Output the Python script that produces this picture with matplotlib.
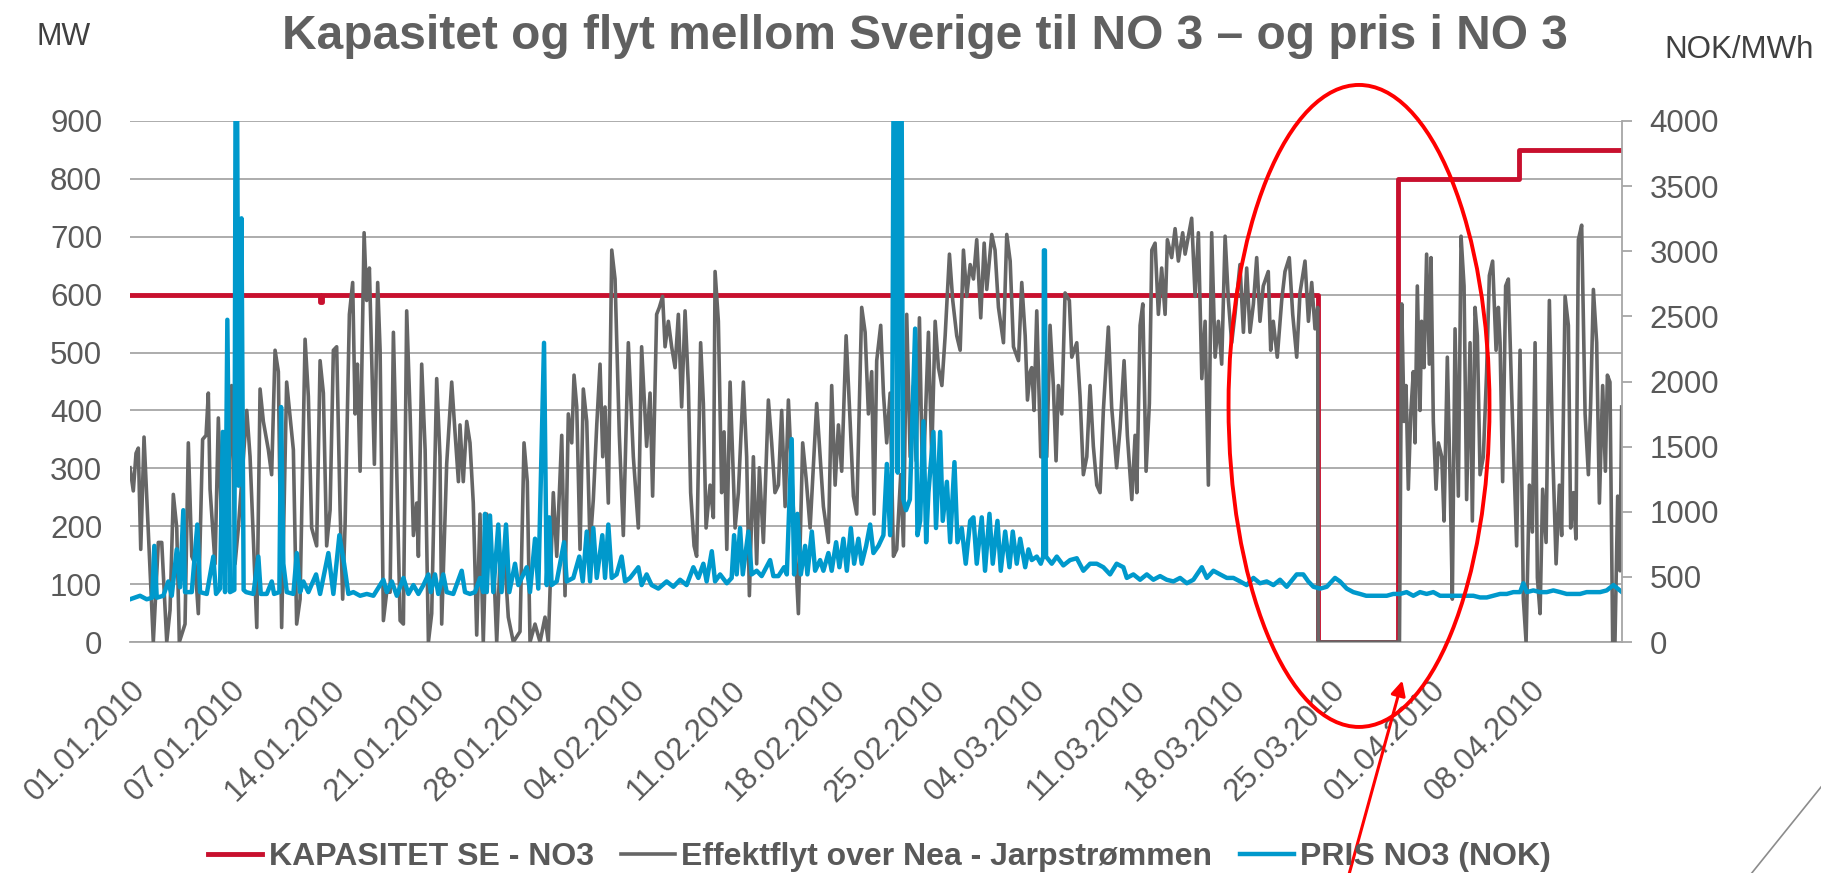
import matplotlib
matplotlib.use("Agg")
import matplotlib.pyplot as plt
from matplotlib.patches import Ellipse, FancyArrowPatch
from matplotlib.lines import Line2D

plt.rcParams['font.family'] = ['Liberation Sans', 'DejaVu Sans']

# x position is in days from the first label (labels are evenly spaced, 7 apart)
tick_days = [0, 7, 14, 21, 28, 35, 42, 49, 56, 63, 70, 77, 84, 91, 98]
tick_labels = ['01.01.2010', '07.01.2010', '14.01.2010', '21.01.2010', '28.01.2010',
               '04.02.2010', '11.02.2010', '18.02.2010', '25.02.2010', '04.03.2010',
               '11.03.2010', '18.03.2010', '25.03.2010', '01.04.2010', '08.04.2010']

# capacity SE -> NO3 (MW), step changes
cap_days = [0, 13.3, 13.45, 83.12, 88.76, 97.2, 104.4]
cap_mw = [600, 588, 600, 0, 800, 850, 850]

# flow over Nea - Jarpstrømmen (MW)
flow_days = [
    0.0, 0.23, 0.42, 0.58, 0.75, 0.98, 1.21, 1.63, 1.98, 2.22, 2.57, 2.8, 3.03, 3.27, 3.45, 3.85,
    4.08, 4.32, 4.55, 4.78, 5.08, 5.32, 5.48, 5.6, 5.95, 6.18, 6.41, 6.72, 7.11, 7.35, 7.58, 8.17,
    8.4, 8.63, 8.87, 9.1, 9.33, 9.68, 9.91, 10.15, 10.38, 10.61, 10.96, 11.43, 11.66, 11.9, 12.25,
    12.48, 12.71, 13.06, 13.3, 13.53, 13.76, 14.0, 14.23, 14.46, 14.7, 14.88, 15.05, 15.35, 15.58,
    15.75, 15.91, 16.1, 16.38, 16.56, 16.75, 16.91, 17.1, 17.33, 17.5, 17.73, 17.96, 18.2, 18.43,
    18.66, 18.9, 19.13, 19.36, 19.6, 19.83, 20.06, 20.18, 20.41, 20.65, 20.88,
    21.11, 21.46, 21.69, 21.81, 22.16, 22.51, 22.74, 22.98, 23.09, 23.32, 23.56, 23.79, 24.02,
    24.26, 24.49, 24.72, 24.96, 25.19, 25.42, 25.66, 25.89, 26.24, 26.47, 26.82, 27.29, 27.57,
    27.8, 27.99, 28.34, 28.69, 29.04, 29.27, 29.62, 29.86, 30.21, 30.44, 30.67, 30.91, 31.07,
    31.26, 31.49, 31.72, 31.96, 32.19, 32.42, 32.66, 32.89, 33.08, 33.24, 33.47, 33.71, 33.94,
    34.24, 34.52, 34.87, 35.22, 35.57, 35.8, 36.15, 36.39, 36.57, 36.85, 37.04, 37.27, 37.44,
    37.67, 37.9, 38.14, 38.37, 38.6, 38.84, 39.07, 39.23, 39.47, 39.65, 39.93, 40.12, 40.31,
    40.59, 40.82, 40.94, 41.17, 41.4, 41.57, 41.76, 41.99,
    42.34, 42.57, 42.92, 43.15, 43.34, 43.62, 43.85, 44.04, 44.32, 44.67, 44.9, 45.13, 45.37,
    45.6, 45.84, 46.07, 46.42, 46.77, 47.07, 47.31, 47.59, 48.05, 48.29, 48.52, 48.87, 49.1,
    49.34, 49.57, 49.8, 50.11, 50.39, 50.62, 50.85, 51.2, 51.44, 51.67, 51.9, 52.07, 52.25,
    52.53, 52.72, 52.95, 53.19, 53.42, 53.65, 53.93, 54.12, 54.35, 54.59, 54.82, 55.01, 55.24,
    55.47, 55.87, 56.1, 56.34, 56.57, 56.81, 57.04, 57.34, 57.57, 57.85, 58.09, 58.32, 58.55,
    58.79, 59.02, 59.25, 59.53, 59.77, 59.95, 60.3, 60.53, 60.77, 61.12, 61.35, 61.59, 61.82,
    62.17, 62.4, 62.64, 62.8, 62.99,
    63.1, 63.26, 63.45, 63.73, 64.15, 64.38, 64.61, 64.8, 64.96, 65.2, 65.43, 65.73, 65.9,
    66.25, 66.48, 66.71, 66.95, 67.18, 67.41, 67.65, 67.88, 68.11, 68.46, 68.69, 69.04, 69.28,
    69.56, 69.79, 70.1, 70.33, 70.45, 70.68, 70.87, 71.1, 71.33, 71.5, 71.73, 71.96, 72.19,
    72.43, 72.59, 72.89, 73.13, 73.36, 73.66, 73.83, 74.06, 74.29, 74.53, 74.76, 75.0, 75.23,
    75.46, 75.69, 75.93, 76.16, 76.39, 76.63, 76.86, 77.09, 77.32, 77.67, 77.91, 78.14, 78.37,
    78.61, 78.84, 79.07, 79.3, 79.65, 79.82, 80.0, 80.28, 80.59, 80.82, 81.12, 81.36, 81.64,
    81.87, 82.22, 82.46, 82.69, 82.92, 83.11, 83.14, 88.83,
    88.99, 89.15, 89.29, 89.45, 89.62, 89.8, 89.92, 90.08, 90.27, 90.38, 90.55, 90.73, 90.92,
    91.04, 91.2, 91.39, 91.55, 91.79, 91.95, 92.18, 92.37, 92.53, 92.72, 92.95, 93.14, 93.35,
    93.53, 93.77, 93.93, 94.12, 94.28, 94.47, 94.7, 94.93, 95.12, 95.35, 95.59, 95.75, 95.87,
    96.05, 96.26, 96.45, 96.68, 97.03, 97.27, 97.5, 97.69, 97.92, 98.13, 98.32, 98.48, 98.67,
    98.85, 99.09, 99.32, 99.55, 99.79, 100.02, 100.18, 100.42, 100.65, 100.81, 101.0, 101.18,
    101.35, 101.58, 101.82, 102.05, 102.21, 102.4, 102.63, 102.82, 103.05, 103.24, 103.38,
    103.56, 103.75, 103.91, 104.1, 104.26, 104.38,
]
flow_mw = [
    301, 261, 326, 335, 160, 354, 228, 0, 172, 172, 0, 55, 255, 197, 0, 31,
    344, 148, 135, 49, 350, 357, 430, 264, 135, 387, 197, 148, 443, 135, 197, 400,
    320, 178, 25, 437, 381, 332, 289, 504, 467, 25, 449, 332, 31, 74, 523,
    424, 197, 166, 486, 430, 166, 228, 504, 510, 228, 74, 203, 566, 621,
    394, 480, 295, 707, 590, 646, 492, 307, 621, 504, 37, 86, 86, 535,
    301, 37, 31, 572, 394, 184, 240, 148, 480, 332, 0,
    49, 455, 320, 31, 308, 449, 363, 277, 375, 277, 381, 344, 240,
    12, 221, 0, 221, 135, 148, 0, 141, 135, 43, 0, 18, 344,
    277, 0, 31, 0, 43, 0, 258, 148, 357, 80, 394, 344, 461,
    406, 160, 437, 381, 166, 246, 375, 480, 320, 406, 240, 677, 627,
    357, 184, 517, 320, 197, 510, 338, 430, 252, 566, 578, 597, 510,
    554, 510, 474, 566, 406, 572, 443, 258, 166, 148, 517, 412, 197,
    271, 215, 640, 554, 258, 363, 160, 449,
    197, 258, 449, 320, 80, 320, 135, 301, 172, 418, 344, 258, 271,
    400, 234, 418, 228, 49, 344, 283, 197, 412, 320, 234, 172, 443,
    271, 375, 295, 529, 381, 252, 221, 578, 535, 394, 467, 221, 486,
    547, 430, 344, 430, 148, 160, 289, 166, 566, 320, 443, 313, 560,
    258, 535, 320, 554, 474, 443, 529, 670, 590, 529, 504, 677, 597,
    652, 627, 695, 560, 689, 609, 704, 677, 578, 517, 704, 658, 510,
    486, 621, 529, 418, 467,
    474, 400, 572, 320, 320, 547, 443, 313, 443, 394, 603, 590, 492,
    517, 424, 289, 320, 443, 338, 271, 258, 400, 544, 406, 301, 369,
    486, 357, 246, 357, 258, 547, 584, 295, 412, 677, 689, 566, 646,
    566, 695, 664, 714, 658, 707, 670, 701, 732, 597, 707, 455, 554,
    271, 707, 492, 554, 480, 701, 590, 517, 566, 652, 535, 646, 535,
    584, 664, 554, 615, 640, 504, 554, 492, 590, 640, 664, 566, 492,
    603, 658, 554, 621, 541, 578, 0, 0,
    584, 381, 443, 264, 394, 467, 344, 615, 400, 554, 474, 670, 480,
    664, 381, 264, 344, 320, 209, 492, 283, 74, 541, 252, 701, 615,
    246, 517, 209, 578, 529, 289, 320, 467, 633, 658, 504, 578, 517,
    277, 615, 627, 430, 166, 504, 74, 0, 271, 190, 517, 111, 49,
    264, 172, 590, 332, 135, 271, 184, 597, 547, 197, 258, 178,
    695, 720, 394, 289, 412, 609, 517, 240, 443, 295, 461,
    449, 0, 0, 252, 123, 406,
]

# price NO3 (NOK/MWh), right axis
price_days = [
    0.0, 0.7, 1.17, 1.55, 1.7, 1.87, 2.33, 2.68, 2.92, 3.27, 3.5, 3.73, 3.85, 4.32, 4.71, 4.9,
    5.37, 5.83, 6.02, 6.3, 6.49, 6.65, 6.81, 7.0, 7.3, 7.38, 7.5, 7.6, 7.8, 7.95, 8.12, 8.63,
    8.98, 9.15, 9.57, 9.92, 10.08, 10.45, 10.57, 10.73, 10.97, 11.43, 11.67, 11.9, 12.13, 12.48,
    13.02, 13.3, 13.88, 14.23, 14.65, 14.98, 15.28, 15.63, 16.1, 16.57, 17.03, 17.73, 17.97,
    18.32, 18.67, 19.13, 19.48, 19.83, 20.18, 20.53, 20.88,
    21.05, 21.34, 21.57, 21.92, 22.16, 22.62, 23.21, 23.44, 23.79, 24.14, 24.49, 24.72, 24.84,
    24.96, 25.19, 25.42, 25.77, 26.0, 26.31, 26.54, 26.94, 27.17, 27.76, 27.99, 28.34, 28.57,
    28.97, 29.16, 29.34, 29.5, 29.86, 30.37, 30.56, 31.02, 31.44, 31.68, 31.96, 32.19, 32.42,
    32.66, 33.05, 33.24, 33.47, 33.71, 34.05, 34.4, 34.64, 34.99, 35.57, 35.8, 36.15, 36.5,
    36.97, 37.55, 38.02, 38.49, 38.95, 39.42, 39.77, 40.12, 40.35, 40.71, 40.94, 41.29, 41.76,
    42.1, 42.27, 42.45, 42.69, 42.88, 43.27, 43.5, 43.85, 44.2, 44.79, 45.02, 45.37, 45.77,
    45.96, 46.3, 46.47, 46.7, 46.94, 47.24, 47.4, 47.71, 47.94, 48.29, 48.52, 48.87, 49.1,
    49.41, 49.64, 49.92, 50.16, 50.44, 50.67, 50.97, 51.2, 51.51, 51.79, 52.02, 52.37, 52.72,
    52.96, 53.19, 53.33, 53.42, 53.58, 53.72, 53.86, 54.0, 54.1, 54.3, 54.57, 54.94, 55.1,
    55.29, 55.52, 55.71, 55.87, 56.22, 56.4, 56.69, 56.87, 57.16, 57.39, 57.69, 57.9, 58.2,
    58.48, 58.79, 59.02, 59.25, 59.6, 59.83, 60.14, 60.37, 60.7, 60.93, 61.24, 61.54, 61.77,
    62.05, 62.29, 62.64, 62.87,
    63.1, 63.45, 63.73, 63.9, 63.95, 64.02, 64.1, 64.5, 64.85, 65.31, 65.78, 66.25, 66.71,
    67.18, 67.65, 68.11, 68.58, 69.04, 69.51, 69.75, 70.21, 70.68, 71.15, 71.61, 72.08, 72.54,
    73.01, 73.48, 73.95, 74.41, 75.0, 75.35, 75.81, 76.28, 76.75, 77.21, 77.68, 78.14, 78.61,
    79.07, 79.54, 80.01, 80.47, 80.94, 81.64, 82.1, 82.45, 82.81, 83.28,
    83.74, 84.32, 84.67, 85.14, 85.6, 86.07, 86.5, 87.0, 87.47, 87.94, 88.4, 88.87, 89.33,
    89.8, 90.27, 90.73, 91.2, 91.67, 92.14, 92.6, 93.07, 93.54, 94.0, 94.47, 94.94, 95.4,
    95.87, 96.34, 96.8, 97.27, 97.5, 97.74, 98.2, 98.67, 99.14, 99.6, 100.07, 100.53, 101.0,
    101.47, 101.93, 102.4, 102.87, 103.33, 103.8, 104.4,
]
price_nok = [
    328, 355, 328, 340, 738, 340, 355, 465, 355, 711, 420, 1012, 383, 383, 902, 383,
    369, 656, 369, 410, 1613, 383, 2474, 383, 400, 4000, 4000, 1200, 3253, 400, 383, 369,
    656, 369, 369, 465, 369, 383, 1804, 601, 383, 369, 683, 383, 465, 383,
    519, 369, 683, 369, 820, 601, 369, 383, 355, 369, 355, 478, 383,
    465, 355, 492, 369, 437, 369, 437, 519,
    383, 519, 369, 519, 383, 369, 547, 383, 369, 383, 492, 383, 984,
    383, 971, 383, 902, 383, 902, 383, 601, 437, 574, 383, 793, 410,
    2297, 437, 957, 437, 465, 766, 465, 492, 656, 465, 848, 465, 875,
    492, 820, 492, 902, 492, 519, 656, 465, 492, 574, 437, 519, 437,
    410, 465, 424, 478, 437, 574, 492, 601, 465, 697, 465, 519, 451,
    492, 820, 519, 875, 519, 848, 519, 547, 506, 629, 506, 506, 574,
    519, 1558, 519, 984, 519, 738, 519, 848, 547, 629, 547, 683, 547,
    766, 574, 793, 547, 875, 601, 793, 601, 738, 902, 683, 738, 820,
    1367, 820, 1367, 4000, 4000, 1300, 4000, 4000, 1100, 1012, 1094, 2406, 820,
    930, 1695, 766, 1148, 1613, 875, 1613, 930, 1230, 766, 1381, 766, 875,
    601, 930, 957, 601, 957, 547, 984, 601, 930, 547, 848, 574, 848,
    601, 793, 574, 711,
    629, 656, 601, 656, 3007, 3007, 656, 601, 656, 588, 629, 643, 547,
    601, 601, 574, 519, 601, 574, 492, 519, 478, 519, 478, 506, 478,
    465, 492, 451, 478, 574, 492, 547, 519, 492, 492, 465, 437, 492,
    451, 465, 437, 478, 424, 519, 519, 465, 424, 410,
    424, 492, 465, 410, 383, 369, 355, 355, 355, 355, 369, 369, 383,
    355, 383, 369, 383, 355, 355, 355, 355, 355, 355, 342, 342, 355,
    369, 369, 383, 383, 451, 383, 396, 383, 383, 396, 383, 369, 369,
    369, 383, 383, 383, 396, 437, 383,
]

RED = '#C8102E'
GRAY = '#666666'
BLUE = '#0099CC'
TXT = '#595959'

fig = plt.figure(figsize=(18.21, 8.73), dpi=100)
ax = fig.add_axes([0.0714, 0.2646, 0.8193, 0.5968])
ax2 = ax.twinx()

l1, = ax.plot(cap_days, cap_mw, drawstyle='steps-post', color=RED, lw=3.5, zorder=2)
l2, = ax.plot(flow_days, flow_mw, color=GRAY, lw=2.6, zorder=3)
l3, = ax2.plot(price_days, price_nok, color=BLUE, lw=3.2)

ax.set_xlim(0, 104.4)
ax.set_ylim(0, 900)
ax2.set_ylim(0, 4000)
ax.set_yticks(range(0, 901, 100))
ax2.set_yticks(range(0, 4001, 500))

ax.yaxis.grid(True, color='#A6A6A6', lw=1.3)
ax.set_axisbelow(True)
for s in ['top', 'left', 'right']:
    ax.spines[s].set_visible(False)
    ax2.spines[s].set_visible(False)
ax.spines['bottom'].set_color('#A6A6A6')
ax.spines['bottom'].set_linewidth(1.3)
ax2.spines['bottom'].set_visible(False)
ax2.spines['right'].set_visible(True)
ax2.spines['right'].set_color('#A6A6A6')
ax2.spines['right'].set_linewidth(1.3)

ax.set_xticks(tick_days)
ax.set_xticklabels(tick_labels, rotation=45, ha='right', rotation_mode='anchor')
ax.tick_params(axis='x', length=0, pad=24, labelsize=22.5, labelcolor=TXT)
ax.tick_params(axis='y', length=0, pad=20, labelsize=22.5, labelcolor=TXT)
ax2.tick_params(axis='y', length=7, width=1.3, color='#A6A6A6', pad=13,
                labelsize=22.5, labelcolor=TXT)

fig.text(0.508, 0.958, 'Kapasitet og flyt mellom Sverige til NO 3 – og pris i NO 3',
         ha='center', va='center', fontsize=34.5, fontweight='bold', color='#606060')
fig.text(0.020, 0.958, 'MW', ha='left', va='center', fontsize=22, color='#404040')
fig.text(0.914, 0.943, 'NOK/MWh', ha='left', va='center', fontsize=22.5, color='#404040')

fig.legend([l1, l2, l3],
           ['KAPASITET SE - NO3', 'Effektflyt over Nea - Jarpstrømmen', 'PRIS NO3 (NOK)'],
           loc='center', bbox_to_anchor=(0.483, 0.018), ncol=3, frameon=False,
           handlelength=1.7, handletextpad=0.2, columnspacing=0.85,
           prop={'size': 23, 'weight': 'bold'}, labelcolor=TXT)

# annotation: red ellipse and arrow
fig.add_artist(Ellipse((0.7463, 0.535), 0.1433, 0.7354, transform=fig.transFigure,
                       fill=False, ec='#FF0000', lw=2.8))
fig.add_artist(FancyArrowPatch((0.7397, -0.01), (0.7705, 0.2235), transform=fig.transFigure,
                               arrowstyle='-|>', mutation_scale=22, color='#FF0000', lw=2.2))
# decoration line in the corner
fig.add_artist(Line2D([0.962, 1.0], [0.0, 0.0985], transform=fig.transFigure,
                      color='#8C8C8C', lw=1.2))

fig.savefig('out.png', dpi=100)
